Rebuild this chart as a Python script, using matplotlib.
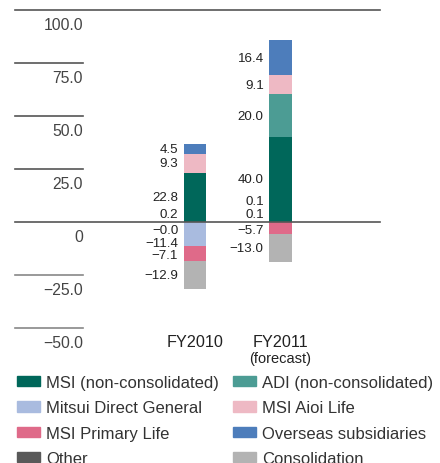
import numpy as np
import matplotlib
matplotlib.use("Agg")
import matplotlib.pyplot as plt
from matplotlib.patches import Patch

plt.rcParams['font.family'] = ['Liberation Sans', 'DejaVu Sans']

# data (billion yen)
years = ["FY2010", "FY2011"]
year_notes = ["", "(forecast)"]
series = ["MSI (non-consolidated)", "ADI (non-consolidated)", "Mitsui Direct General",
          "MSI Aioi Life", "MSI Primary Life", "Overseas subsidiaries", "Other", "Consolidation"]
msi = [22.8, 40.0]
adi = [-0.0, 20.0]
mitsui_direct = [-11.4, 0.1]
aioi_life = [9.3, 9.1]
primary_life = [-7.1, -5.7]
overseas = [4.5, 16.4]
other = [0.2, 0.1]
consolidation = [-12.9, -13.0]
yticks = [100, 75, 50, 25, 0, -25, -50]

values = [msi, adi, mitsui_direct, aioi_life, primary_life, overseas, other, consolidation]
colors = ["#00675a", "#4c9c94", "#a9bbdf", "#eeb9c4", "#df6a89", "#4d7dbb", "#595959", "#b3b3b3"]

# stacking order (index into series): positives from zero upward, negatives from zero downward
pos_order = [6, 2, 0, 1, 3, 5]
neg_order = [1, 2, 4, 7]

fig = plt.figure(figsize=(4.4, 4.64), dpi=100)
ax = fig.add_axes([15/440, 1 - 329/464, 365/440, 318/464])
ax.set_xlim(-2.105, 2.164)
ax.set_ylim(-50, 100)
ax.axis('off')

bw = 0.263
min_off = 4.0
gap = 5.9
for j, yr in enumerate(years):
    # positives
    base = 0.0
    last = min_off - gap
    for i in pos_order:
        v = values[i][j]
        if np.signbit(v):
            continue
        ax.bar(j, v, bw, bottom=base, color=colors[i], linewidth=0)
        y = max(base + v / 2, last + gap)
        last = y
        ax.annotate(f"{v:.1f}", (j - bw / 2, y), xytext=(-4, 0), textcoords='offset points',
                    ha='right', va='center', fontsize=9.6, color='#222222')
        base += v
    # negatives
    base = 0.0
    last = -min_off + gap
    for i in neg_order:
        v = values[i][j]
        if not np.signbit(v):
            continue
        ax.bar(j, v, bw, bottom=base, color=colors[i], linewidth=0)
        y = min(base + v / 2, last - gap)
        last = y
        ax.annotate(f"{v:.1f}".replace("-", "\u2212"), (j - bw / 2, y), xytext=(-4, 0),
                    textcoords='offset points', ha='right', va='center', fontsize=9.6, color='#222222')
        base += v
    ax.text(j, -0.042, yr, transform=ax.get_xaxis_transform(), ha='center', va='center',
            fontsize=11.7, color='#222222')
    if year_notes[j]:
        ax.text(j, -0.094, year_notes[j], transform=ax.get_xaxis_transform(), ha='center',
                va='center', fontsize=10.5, color='#222222')

# axis rules and labels
tr = ax.get_yaxis_transform()
for t in yticks:
    right = 1.0 if t in (0, 100) else 68 / 365
    col = '#555555' if t >= 0 else '#888888'
    ax.plot([0, right], [t, t], transform=tr, color=col, lw=1.2, clip_on=False, zorder=3)
    lab = "0" if t == 0 else f"{t:.1f}".replace("-", "\u2212")
    ax.annotate(lab, (68 / 365, t), xycoords=tr, xytext=(0, -10.5), textcoords='offset points',
                ha='right', va='center', fontsize=11.3, color='#444444')

# legend, row-major in two columns
handles = [Patch(color=c, label=s) for s, c in zip(series, colors)]
order = [0, 2, 4, 6, 1, 3, 5, 7]
fig.legend([handles[k] for k in order], [series[k] for k in order], ncol=2,
           loc='upper left', bbox_to_anchor=(17 / 440, 1 - 376 / 464), frameon=False,
           fontsize=12, handlelength=1.38, handleheight=0.6, handletextpad=0.36,
           columnspacing=0.84, labelspacing=0.62, borderpad=0, borderaxespad=0,
           labelcolor='#333333')

fig.savefig("out.png", dpi=100)
